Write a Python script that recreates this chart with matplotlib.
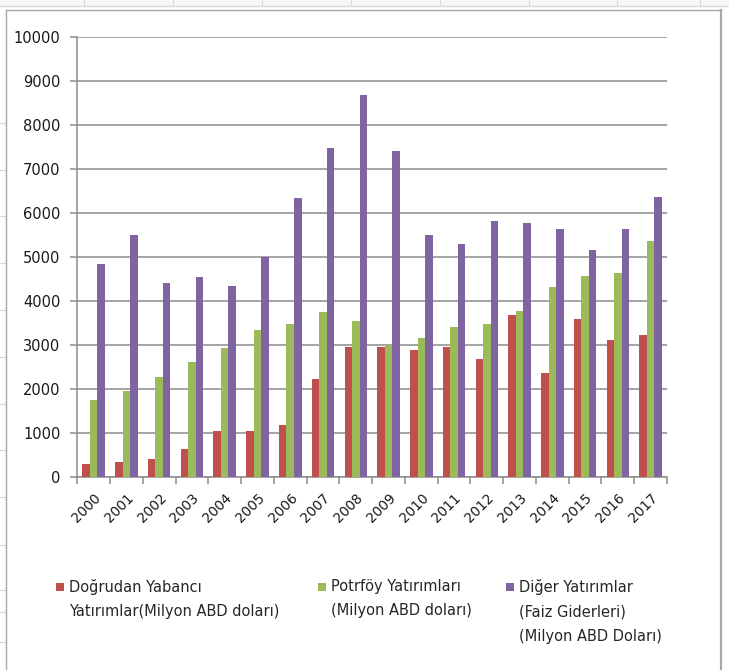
import matplotlib.pyplot as plt
import numpy as np
from matplotlib.patches import Rectangle
from matplotlib.lines import Line2D

years = [str(y) for y in range(2000, 2018)]
dogrudan = [295, 340, 410, 636, 1045, 1045, 1180, 2230, 2950, 2950,
            2886, 2950, 2680, 3680, 2360, 3590, 3110, 3230]
portfoy = [1750, 1955, 2270, 2614, 2930, 3340, 3477, 3750, 3545, 3000,
           3160, 3410, 3480, 3770, 4320, 4570, 4640, 5360]
diger = [4840, 5500, 4410, 4545, 4340, 5000, 6340, 7477, 8680, 7410,
         5500, 5295, 5818, 5773, 5636, 5160, 5636, 6360]
labels = ["Doğrudan Yabancı\nYatırımlar(Milyon ABD doları)",
          "Potrföy Yatırımları\n(Milyon ABD doları)",
          "Diğer Yatırımlar\n(Faiz Giderleri)\n(Milyon ABD Doları)"]
colors = ['#C0504D', '#9BBB59', '#8064A2']

W, H = 729, 670
fig = plt.figure(figsize=(W / 100, H / 100), dpi=100)
fig.patch.set_facecolor('white')

def px(x, y):
    return x / W, 1 - y / H

# spreadsheet cells behind the chart
fig.add_artist(Rectangle(px(0, 7), 1, 7 / H, transform=fig.transFigure,
                         facecolor='#f7f7f7', edgecolor='none', zorder=0))
fig.add_artist(Line2D([0, 1], [1 - 6 / H] * 2, transform=fig.transFigure,
                      color='#dadada', lw=1))
for xc in [84, 173, 262, 351, 440, 529, 617, 700]:
    fig.add_artist(Line2D([xc / W] * 2, [1 - 6 / H, 1], transform=fig.transFigure,
                          color='#dadada', lw=0.8))
for yr in [123, 170, 216, 263, 310, 357, 404, 450, 497, 545, 590, 612, 642]:
    fig.add_artist(Line2D([0, 5 / W], [1 - yr / H] * 2, transform=fig.transFigure,
                          color='#d8d8d8', lw=0.8))

# chart frame
fig.add_artist(Line2D([6 / W, 721 / W], [1 - 9.5 / H] * 2, transform=fig.transFigure,
                      color='#a8a8a8', lw=1))
fig.add_artist(Line2D([6 / W] * 2, [0, 1 - 9.5 / H], transform=fig.transFigure,
                      color='#a8a8a8', lw=1))
fig.add_artist(Line2D([721 / W] * 2, [0, 1 - 9.5 / H], transform=fig.transFigure,
                      color='#a8a8a8', lw=1.6))

ax = fig.add_axes([77.3 / W, 193.3 / H, 589.7 / W, 440 / H])
x = np.arange(len(years))
w = 0.229
for i, (vals, c) in enumerate(zip([dogrudan, portfoy, diger], colors)):
    ax.bar(x + (i - 1) * w, vals, width=w, color=c, zorder=3)

ax.set_xlim(-0.5, len(years) - 0.5)
ax.set_ylim(0, 10000)
ax.set_yticks(np.arange(0, 10001, 1000))
ax.yaxis.grid(True, color='#8c8c8c', lw=1.1, zorder=0)
ax.set_axisbelow(True)
for s in ['top', 'right']:
    ax.spines[s].set_visible(False)
for s in ['left', 'bottom']:
    ax.spines[s].set_color('#8c8c8c')
    ax.spines[s].set_linewidth(1.1)
ax.tick_params(axis='y', length=5, color='#8c8c8c', width=1.1,
               labelsize=10.5, labelcolor='#1a1a1a', pad=7)
ax.set_xticks(x)
ax.set_xticks(np.arange(-0.5, len(years), 1), minor=True)
ax.tick_params(axis='x', which='major', length=0, pad=10)
ax.tick_params(axis='x', which='minor', length=5, color='#8c8c8c', width=1.1)
ax.set_xticklabels(years, rotation=45, ha='right', va='top',
                   rotation_mode='anchor', fontsize=9.8, color='#1a1a1a')

# legend
sq = 8
for (xs, xt), lab, c in zip([(56, 69), (318, 331), (506, 519)], labels, colors):
    fig.add_artist(Rectangle(px(xs, 587 + sq / 2), sq / W, sq / H,
                             transform=fig.transFigure, facecolor=c,
                             edgecolor='none'))
    fig.text(*px(xt, 579), lab, ha='left', va='top', fontsize=10.5,
             color='#262626', linespacing=1.78)

fig.savefig('out.png', dpi=100)
